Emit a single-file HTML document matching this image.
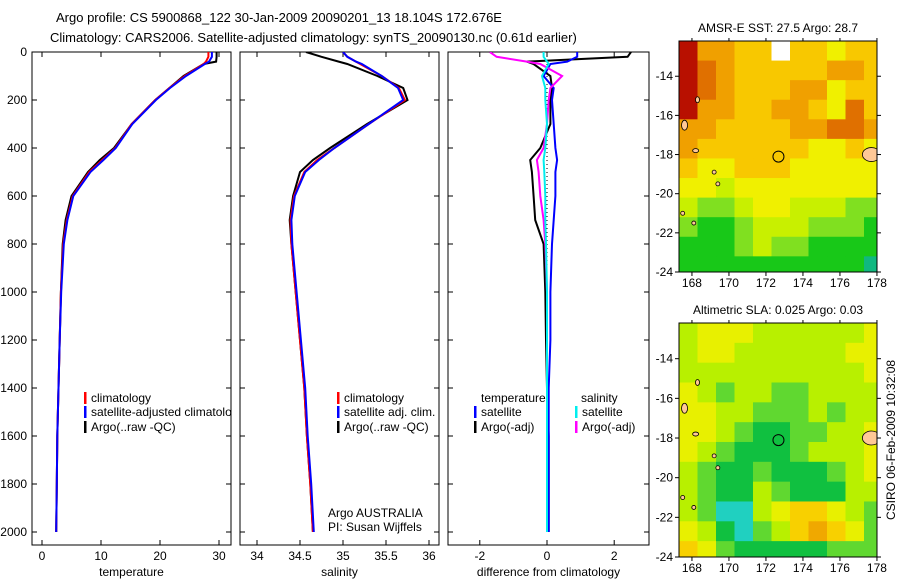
<!DOCTYPE html>
<html><head><meta charset="utf-8"><style>
body{margin:0;background:#fff}
svg text{font-family:"Liberation Sans",sans-serif;font-size:12px;fill:#000}
</style></head><body>
<svg id="c" width="900" height="580" viewBox="0 0 900 580" xmlns="http://www.w3.org/2000/svg">
<rect width="900" height="580" fill="#fff"/>
<text x="56" y="22" style="font-size:13px">Argo profile: CS 5900868_122 30-Jan-2009 20090201_13 18.104S 172.676E</text>
<text x="50" y="42" style="font-size:13px">Climatology: CARS2006. Satellite-adjusted climatology: synTS_20090130.nc (0.61d earlier)</text>
<defs>
<clipPath id="cp1"><rect x="32" y="52" width="199" height="493"/></clipPath>
<clipPath id="cp2"><rect x="240" y="52" width="199" height="493"/></clipPath>
<clipPath id="cp3"><rect x="448" y="52" width="201" height="493"/></clipPath>
<clipPath id="cm1"><rect x="679" y="41" width="198" height="231"/></clipPath>
<clipPath id="cm2"><rect x="679" y="323" width="198" height="234"/></clipPath>
</defs>
<g id="g"></g>
<text transform="translate(895,440) rotate(-90)" text-anchor="middle">CSIRO 06-Feb-2009 10:32:08</text>
</svg>
<script>
// ---- profile data ----
const depths = [0,20,40,50,100,150,200,300,400,450,500,600,700,800,1000,1200,1400,1600,1800,2000];
const tempClim = [28.2,28.2,27.8,27.4,24.2,21.6,19.2,15.2,12.4,10.2,8.0,5.2,4.2,3.6,3.2,3.0,2.8,2.6,2.5,2.4];
const tempSat  = [28.8,28.8,28.3,27.6,24.4,21.7,19.3,15.3,12.5,10.4,8.2,5.3,4.3,3.7,3.25,3.0,2.8,2.6,2.5,2.4];
const tempArgo = [29.6,29.6,29.5,27.4,24.0,21.6,19.2,15.2,12.2,9.8,7.8,5.0,4.0,3.5,3.2,3.0,2.8,2.6,2.5,2.4];
const salClim = [35.0,35.05,35.15,35.2,35.45,35.65,35.72,35.3,34.9,34.7,34.55,34.43,34.39,34.4,34.45,34.5,34.55,34.58,34.62,34.65];
const salSat  = [35.0,35.05,35.15,35.22,35.45,35.64,35.7,35.3,34.9,34.72,34.56,34.44,34.4,34.41,34.46,34.51,34.56,34.59,34.63,34.66];
const salArgo = [34.57,34.75,34.95,35.05,35.4,35.7,35.75,35.28,34.85,34.65,34.5,34.42,34.38,34.4,34.45,34.5,34.55,34.58,34.62,34.65];
const dTempSat  = [0.9,0.9,0.6,0.1,-0.1,0.2,0.15,0.2,0.25,0.3,0.25,0.25,0.2,0.15,0.1,0.1,0.05,0.05,0.05,0.05];
const dTempArgo = [2.5,2.4,-0.6,-0.4,0.1,0.15,0.1,0.1,-0.2,-0.5,-0.45,-0.4,-0.35,-0.1,-0.05,-0.03,0.0,0.05,0.05,0.05];
const dSalSat   = [-0.1,-0.1,0.0,0.05,-0.15,-0.05,-0.05,0.0,-0.05,-0.1,-0.08,-0.05,-0.05,-0.03,0.0,0.0,0.0,0.0,0.0,0.0];
const dSalArgo  = [-1.7,-1.5,-0.6,-0.2,0.45,0.1,0.05,0.0,-0.1,-0.3,-0.25,-0.2,-0.1,-0.05,0.0,0.0,0.0,0.0,0.0,0.0];
const depthTicks = [0,200,400,600,800,1000,1200,1400,1600,1800,2000];
const tempTicks = [0,10,20,30];
const salTicks = [34,34.5,35,35.5,36];
const diffTicks = [-2,0,2];
// ---- map data (1-degree cells, rows from north 12.2S to south 24S) ----
const sstRows = ["86655w55455","87655555665","87655566455","86655665475","66555566776","65555554454","54455544444","44344444444","32234433322","21123332221","11123221111","11111111110"];
const slaRows = ["34443333334","34433333344","33333333334","43233223333","44332223233","44321122334","43211123334","32112111234","32113211133","32003455432","43102356542","54211111222"];
const sstPalette = {"0":"#10b880","1":"#18c818","2":"#80e020","3":"#c8f000","4":"#f0f000","5":"#f8c800","6":"#f0a000","7":"#e07000","8":"#b81000","w":"#ffffff"};
const slaPalette = {"0":"#20d0c0","1":"#10c040","2":"#60d830","3":"#b8f000","4":"#e8f000","5":"#f8d000","6":"#f0a800"};
const lonTicks = [168,170,172,174,176,178];
const latTicks = [14,16,18,20,22,24];

const NS="http://www.w3.org/2000/svg";
const G=document.getElementById('g');
function mk(tag,attrs,parent){const e=document.createElementNS(NS,tag);for(const k in attrs)e.setAttribute(k,attrs[k]);(parent||G).appendChild(e);return e;}
function yD(d){return 52+0.24*d;}
function txt(x,y,s,anchor,name){const t=mk('text',{x:x,y:y,'text-anchor':anchor||'start'});t.textContent=s;


return t;}

const panels=[
 {x0:32,x1:231,xs:v=>42+v*5.9,ticks:tempTicks,label:'temperature',clip:'cp1'},
 {x0:240,x1:439,xs:v=>257+(v-34)*86,ticks:salTicks,label:'salinity',clip:'cp2'},
 {x0:448,x1:649,xs:v=>547+v*33.6,ticks:diffTicks,label:'difference from climatology',clip:'cp3'}
];
function line(p,vals,color,name,w){
 const pts=vals.map((v,i)=>p.xs(v).toFixed(1)+','+yD(depths[i]).toFixed(1)).join(' ');
 const l=mk('polyline',{points:pts,fill:'none',stroke:color,'stroke-width':w||2,'clip-path':'url(#'+p.clip+')'});
 
 
}
panels.forEach((p,pi)=>{
 const r=mk('rect',{x:p.x0,y:52,width:p.x1-p.x0,height:493,fill:'none',stroke:'#000','stroke-width':1});
 
 
 p.ticks.forEach(t=>{const x=p.xs(t);
  mk('line',{x1:x,y1:545,x2:x,y2:540,stroke:'#000'});mk('line',{x1:x,y1:52,x2:x,y2:57,stroke:'#000'});
  txt(x,560,String(t),'middle','x-tick-label');});
 depthTicks.forEach(d=>{const y=yD(d);
  mk('line',{x1:p.x0,y1:y,x2:p.x0+5,y2:y,stroke:'#000'});mk('line',{x1:p.x1,y1:y,x2:p.x1-5,y2:y,stroke:'#000'});
  if(pi===0)txt(27,y+4,String(d),'end','y-tick-label');});
 txt((p.x0+p.x1)/2,576,p.label,'middle','x-axis-title');
});
line(panels[0],tempArgo,'#000','temp-argo-line');
line(panels[0],tempClim,'#f00','temp-clim-line');
line(panels[0],tempSat,'#00f','temp-sat-line');
line(panels[1],salArgo,'#000','sal-argo-line');
line(panels[1],salClim,'#f00','sal-clim-line');
line(panels[1],salSat,'#00f','sal-sat-line');
const zl=mk('line',{x1:547,y1:52,x2:547,y2:532,stroke:'#000','stroke-dasharray':'1,3'});


line(panels[2],dTempArgo,'#000','dtemp-argo-line');
line(panels[2],dTempSat,'#00f','dtemp-sat-line');
line(panels[2],dSalArgo,'#f0f','dsal-argo-line');
line(panels[2],dSalSat,'#0ee','dsal-sat-line');
function leg(x,y,color,label,clip){
 if(color){const b=mk('rect',{x:x,y:y-10,width:2.5,height:12,fill:color});
  
  }
 const t=txt(x+7,y,label,'start','legend-entry');if(clip)t.setAttribute('clip-path','url(#'+clip+')');
}
leg(84,402,'#f00','climatology','cp1');leg(84,416,'#00f','satellite-adjusted climatology','cp1');leg(84,431,'#000','Argo(..raw -QC)','cp1');
leg(337,402,'#f00','climatology');leg(337,416,'#00f','satellite adj. clim.');leg(337,431,'#000','Argo(..raw -QC)');
txt(481,402,'temperature','start','legend-header');leg(474,416,'#00f','satellite');leg(474,431,'#000','Argo(-adj)');
txt(581,402,'salinity','start','legend-header');leg(575,416,'#0ee','satellite');leg(575,431,'#f0f','Argo(-adj)');
txt(328,517,'Argo AUSTRALIA','start','float-owner');txt(328,531,'PI: Susan Wijffels','start','float-pi');
function drawMap(top,bottom,rows,pal,title,clip,name){
 const lonX=l=>679+(l-167.3)*18.5;
 const latY=a=>top+(a-12.2)*(bottom-top)/11.8;
 const gg=mk('g',{'clip-path':'url(#'+clip+')'});
 
 
 rows.forEach((row,ri)=>{for(let ci=0;ci<row.length;ci++){
  const a=12.2+ri, l=167.3+ci;
  mk('rect',{x:lonX(l),y:latY(a),width:18.6,height:(bottom-top)/11.8+0.5,fill:pal[row[ci]]||'#fff'},gg);}});
 [[177.7,18.0,9,7],[167.6,16.5,3,5],[168.2,17.8,3,2],[169.2,18.9,2,2],[169.4,19.5,2,2],[168.3,15.2,2,3],[167.5,21.0,2,2],[168.1,21.5,2,2]].forEach(s=>{
  mk('ellipse',{cx:lonX(s[0]),cy:latY(s[1]),rx:s[2],ry:s[3],fill:'#ffc896',stroke:'#000','stroke-width':0.8},gg);});
 const c=mk('circle',{cx:lonX(172.676),cy:latY(18.104),r:5.5,fill:'none',stroke:'#000','stroke-width':1});
 
 
 const r=mk('rect',{x:679,y:top,width:198,height:bottom-top,fill:'none',stroke:'#000'});
 
 
 lonTicks.forEach(l=>{const x=lonX(l);mk('line',{x1:x,y1:bottom,x2:x,y2:bottom+4,stroke:'#000'});mk('line',{x1:x,y1:top,x2:x,y2:top-3,stroke:'#000'});
  txt(x,bottom+15,String(l),'middle','map-lon-label');});
 latTicks.forEach(a=>{const y=latY(a);mk('line',{x1:679,y1:y,x2:675,y2:y,stroke:'#000'});mk('line',{x1:877,y1:y,x2:881,y2:y,stroke:'#000'});
  txt(673,y+4,'-'+a,'end','map-lat-label');});
 txt(778,top-9,title,'middle',name+'-title');
}
drawMap(41,272,sstRows,sstPalette,'AMSR-E SST: 27.5 Argo: 28.7','cm1','sst-map');
drawMap(323,557,slaRows,slaPalette,'Altimetric SLA: 0.025 Argo: 0.03','cm2','sla-map');
</script>
</body></html>
